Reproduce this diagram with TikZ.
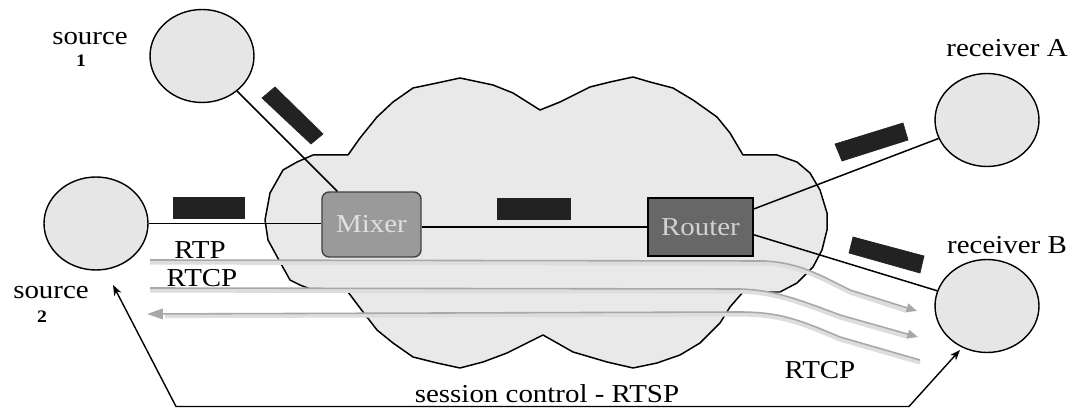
\documentclass[tikz,border=0pt]{standalone}
\usepackage{fontspec}
\setmainfont[FakeStretch=1.12]{Liberation Serif}
\usetikzlibrary{shapes.geometric,arrows.meta,calc}
\definecolor{cloudc}{HTML}{E9E9E9}
\definecolor{circc}{HTML}{E6E6E6}
\definecolor{mixc}{HTML}{9A9A9A}
\definecolor{routc}{HTML}{676767}
\definecolor{barc}{HTML}{222222}
\definecolor{flowc}{HTML}{A8A8A8}
\definecolor{flowsh}{HTML}{DDDDDD}
\begin{document}
\begin{tikzpicture}[x=0.02cm,y=-0.02cm,
  lbl/.style={font=\fontsize{14.7}{17}\selectfont, inner sep=0pt},
  num/.style={font=\fontsize{10}{11}\selectfont\bfseries, inner sep=0pt},
  host/.style={ellipse, draw, line width=0.8pt, fill=circc, minimum width=2.08cm, minimum height=1.86cm, inner sep=0pt},
  link/.style={draw, line width=0.85pt},
  bar/.style={fill=barc, draw=barc, line width=0.4pt},
  flow/.style={draw=flowc, line width=0.9pt},
  flowshade/.style={draw=flowsh, line width=2.4pt},
  ghead/.style={-{Triangle[length=6pt,width=5pt,fill=flowc,color=flowc]}},
  ctrl/.style={draw, line width=0.8pt}]
\useasboundingbox (0,0) rectangle (1072,408);

% cloud
\draw[fill=cloudc, line width=0.85pt, line join=round]
 (265,220) -- (268,240) -- (280,262) -- (290,280) -- (300,285) -- (318,292) -- (348,292)
 -- (360,308) -- (377,330) -- (393,343) -- (413,357) -- (437,363) -- (460,368) -- (483,362)
 -- (507,353) -- (527,343) -- (543,335) -- (573,352) -- (607,362) -- (633,368) -- (657,363)
 -- (680,355) -- (700,343) -- (720,323) -- (730,307) -- (743,292) -- (780,292) -- (797,283)
 -- (813,267) -- (822,250) -- (827,230) -- (827,213) -- (820,190) -- (810,173) -- (797,162)
 -- (777,155) -- (743,155) -- (730,133) -- (717,117) -- (693,100) -- (673,88) -- (650,82)
 -- (633,77) -- (610,82) -- (590,87) -- (560,102) -- (540,110) -- (513,93) -- (493,85)
 -- (460,78) -- (437,83) -- (413,88) -- (393,102) -- (377,117) -- (360,138) -- (348,155)
 -- (313,155) -- (297,162) -- (283,170) -- (270,193) -- cycle;

% hosts
\node[host] (s1) at (202,56) {};
\node[host] (s2) at (96,223.5) {};
\node[host] (ra) at (987,120) {};
\node[host] (rb) at (987,306) {};

% devices
\node[draw=black!75, line width=0.8pt, fill=mixc, rounded corners=4pt, minimum width=1.98cm, minimum height=1.3cm, inner sep=0pt, lbl, text=black!12] (mixer) at (371.5,224.5) {Mixer};
\node[draw=black, line width=1.3pt, fill=routc, minimum width=2.1cm, minimum height=1.16cm, inner sep=0pt, lbl, text=black!18] (router) at (700.5,227) {Router};

% flows (RTP / RTCP)
\coordinate (f1s) at (150,260);
\coordinate (f1e) at (917,311);
\coordinate (f2s) at (150,288);
\coordinate (f2e) at (918,337);
\coordinate (f3s) at (920,360);
\coordinate (f3e) at (147,314);
\path[flowshade] ($(f1s)+(0,2.5)$) -- (765,263.5) .. controls (800,265.5) and (820,277.5) .. (850,292.5) -- (907,311);
\path[flowshade] ($(f2s)+(0,2.5)$) -- (740,291.5) .. controls (775,292.5) and (800,302.5) .. (840,317.5) -- (908,337);
\path[flowshade] ($(f3s)+(0,2.5)$) -- (840,339.5) .. controls (800,322.5) and (780,314.5) .. (740,314.5) -- (165,316);
\path[flow,ghead] (f1s) -- (765,261) .. controls (800,263) and (820,275) .. (850,290) -- (f1e);
\path[flow,ghead] (f2s) -- (740,289) .. controls (775,290) and (800,300) .. (840,315) -- (f2e);
\path[flow,-{Triangle[length=9pt,width=6pt,fill=flowc,color=flowc]}] (f3s) -- (840,337) .. controls (800,320) and (780,312) .. (740,312) -- (f3e);

% links
\path[link] (s1) -- ($(mixer.north west)+(16,0)$);
\path[link] (s2.east) -- (mixer.west |- s2.east);
\path[link] (mixer.east |- router.west) -- (router.west);
\path[link] ($(router.north east)+(0,12)$) -- (ra);
\path[link] ($(router.north east)+(0,38)$) -- (rb);

% packets
\fill[bar] (262,98) -- (275,87) -- (323,134) -- (311,144) -- cycle;
\fill[bar] (173,197) rectangle (244,218);
\fill[bar] (497,198) rectangle (570,219);
\fill[bar] (835,144) -- (903,123) -- (908,140) -- (842,161) -- cycle;
\fill[bar] (853,237) -- (924,256) -- (920,273) -- (849,253) -- cycle;

% session control
\coordinate (t1) at (113,285);
\coordinate (bl) at (176,406.5);
\coordinate (br) at (909,406.5);
\coordinate (t2) at (960,350);
\path[ctrl,{Stealth[length=6pt,width=4.5pt]}-{Stealth[length=6pt,width=4.5pt]}] (t1) -- (bl) -- (br) -- (t2);

% labels
\node[lbl] (ls1) at (90,39) {source};
\node[num] (ln1) at (81,61) {1};
\node[lbl] (ls2) at (51,293) {source};
\node[num] (ln2) at (42,317) {2};
\node[lbl] (lra) at (1007,48) {receiver A};
\node[lbl] (lrb) at (1007,245) {receiver B};
\node[lbl] (lrtp) at (200,250) {RTP};
\node[lbl] (lrtcp) at (202,278) {RTCP};
\node[lbl] (lrtcp2) at (820,370) {RTCP};
\node[lbl, anchor=base] (lsc) at (547,403) {session control - RTSP};
\end{tikzpicture}
\end{document}
